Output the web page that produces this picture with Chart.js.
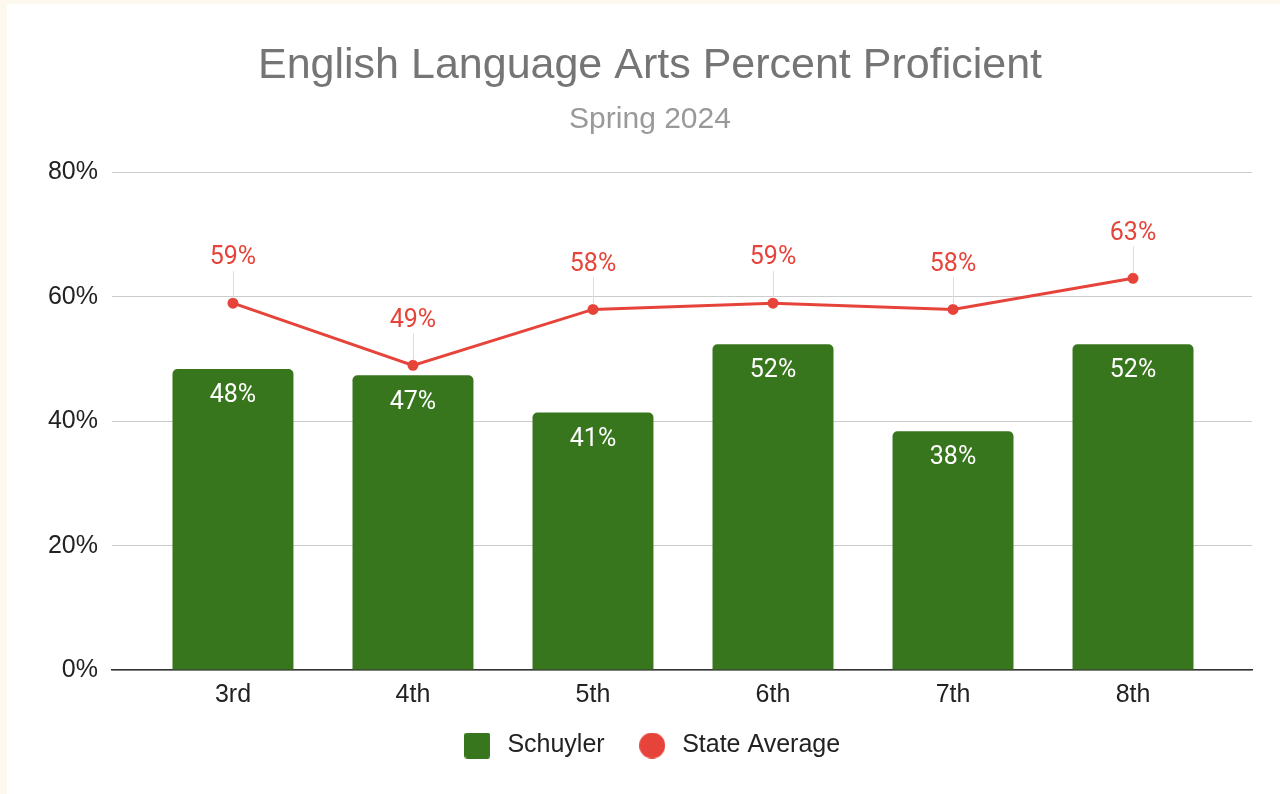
<!DOCTYPE html>
<html>
<head>
<meta charset="UTF-8">
<title>English Language Arts Percent Proficient</title>
<script src="https://cdn.jsdelivr.net/npm/chart.js"></script>
<style>
    html, body {
        margin: 0;
        padding: 0;
        background-color: #fdf9ee;
    }
    .card {
        position: absolute;
        left: 7px;
        top: 4px;
        width: 1273px;
        height: 790px;
        background-color: #fff;
    }
</style>
</head>
<body>
<div class="card"><canvas id="elaChart"></canvas></div>
<script>
    // Data
    const grades = ['3rd', '4th', '5th', '6th', '7th', '8th'];
    const schuyler = [48.4, 47.4, 41.4, 52.4, 38.4, 52.4];
    const stateAverage = [59, 49, 58, 59, 58, 63];
    const yTicks = [0, 20, 40, 60, 80];

    const GREEN = '#38761d';
    const RED = '#e6443a';

    Chart.defaults.font.family = "'Liberation Sans', Arial, sans-serif";

    // little canvases used as legend swatches
    function swatch(color, round) {
        const c = document.createElement('canvas');
        c.width = 26;
        c.height = 26;
        const g = c.getContext('2d');
        g.fillStyle = color;
        g.beginPath();
        if (round) g.arc(13, 13, 13, 0, Math.PI * 2);
        else g.roundRect(0, 0, 26, 26, 3);
        g.fill();
        return c;
    }
    const swatches = [swatch(GREEN, false), swatch(RED, true)];

    // value labels: white inside bars, red above line points with a leader
    const valueLabels = {
        id: 'valueLabels',
        afterDatasetsDraw(chart) {
            const ctx = chart.ctx;
            ctx.save();
            ctx.textAlign = 'center';
            ctx.textBaseline = 'middle';
            ctx.font = '25px Roboto';
            chart.getDatasetMeta(0).data.forEach((bar, i) => {
                ctx.fillStyle = '#fff';
                ctx.fillText(Math.round(schuyler[i]) + '%', bar.x, bar.y + 27);
            });
            chart.getDatasetMeta(1).data.forEach((pt, i) => {
                const x = Math.round(pt.x) + 0.5;
                ctx.strokeStyle = '#dddddd';
                ctx.lineWidth = 1;
                ctx.beginPath();
                ctx.moveTo(x, pt.y - 5);
                ctx.lineTo(x, pt.y - 32);
                ctx.stroke();
                ctx.fillStyle = RED;
                ctx.fillText(Math.round(stateAverage[i]) + '%', pt.x, pt.y - 45);
            });
            ctx.restore();
        }
    };

    new Chart(document.getElementById('elaChart'), {
        data: {
            datasets: [
                {
                    type: 'bar',
                    label: 'Schuyler',
                    data: grades.map((g, i) => ({ x: i, y: schuyler[i] })),
                    backgroundColor: GREEN,
                    barPercentage: 0.672,
                    categoryPercentage: 1,
                    borderRadius: { topLeft: 5, topRight: 5 },
                    borderSkipped: 'start',
                    order: 2
                },
                {
                    type: 'line',
                    label: 'State Average',
                    data: grades.map((g, i) => ({ x: i, y: stateAverage[i] })),
                    borderColor: RED,
                    backgroundColor: RED,
                    borderWidth: 3,
                    pointRadius: 4,
                    pointHoverRadius: 4,
                    tension: 0,
                    order: 1
                }
            ]
        },
        options: {
            responsive: true,
            maintainAspectRatio: false,
            animation: false,
            layout: { padding: { left: 13, right: 0, top: 0, bottom: 26 } },
            scales: {
                x: {
                    type: 'linear',
                    offset: false,
                    min: -0.672,
                    max: 5.661,
                    afterBuildTicks: s => { s.ticks = grades.map((g, i) => ({ value: i })); },
                    afterFit: s => { s.height = 33; },
                    grid: { display: false, drawTicks: false },
                    border: { display: true, color: '#333', width: 1.5 },
                    ticks: {
                        callback: v => grades[v],
                        color: '#222',
                        font: { size: 25 },
                        padding: 10,
                        autoSkip: false,
                        maxRotation: 0
                    }
                },
                y: {
                    min: 0,
                    max: 80,
                    afterBuildTicks: s => { s.ticks = yTicks.map(v => ({ value: v })); },
                    afterFit: s => { s.width = 92; },
                    grid: { color: '#cccccc', drawTicks: false },
                    border: { display: false },
                    ticks: {
                        callback: v => v + '%',
                        color: '#222',
                        font: { size: 25 },
                        padding: 14
                    }
                },
                // empty right-hand gutter so the titles stay centred on the card
                gutter: {
                    position: 'right',
                    afterFit: s => { s.width = 28; },
                    grid: { display: false, drawOnChartArea: false },
                    border: { display: false },
                    ticks: { display: false }
                }
            },
            plugins: {
                title: {
                    display: true,
                    text: 'English Language Arts Percent Proficient',
                    color: '#757575',
                    font: { size: 43, weight: 'normal' },
                    padding: { top: 36, bottom: 0 }
                },
                subtitle: {
                    display: true,
                    text: 'Spring 2024',
                    color: '#999999',
                    font: { size: 30, weight: 'normal' },
                    padding: { top: 10, bottom: 35 }
                },
                legend: {
                    position: 'bottom',
                    labels: {
                        usePointStyle: true,
                        pointStyleWidth: 35,
                        color: '#222',
                        font: { size: 25 },
                        padding: 30,
                        generateLabels(chart) {
                            const items = Chart.defaults.plugins.legend.labels.generateLabels(chart);
                            items.sort((a, b) => a.datasetIndex - b.datasetIndex);
                            items.forEach(it => { it.pointStyle = swatches[it.datasetIndex]; });
                            return items;
                        }
                    }
                },
                tooltip: { enabled: false }
            }
        },
        plugins: [valueLabels]
    });
</script>
</body>
</html>
